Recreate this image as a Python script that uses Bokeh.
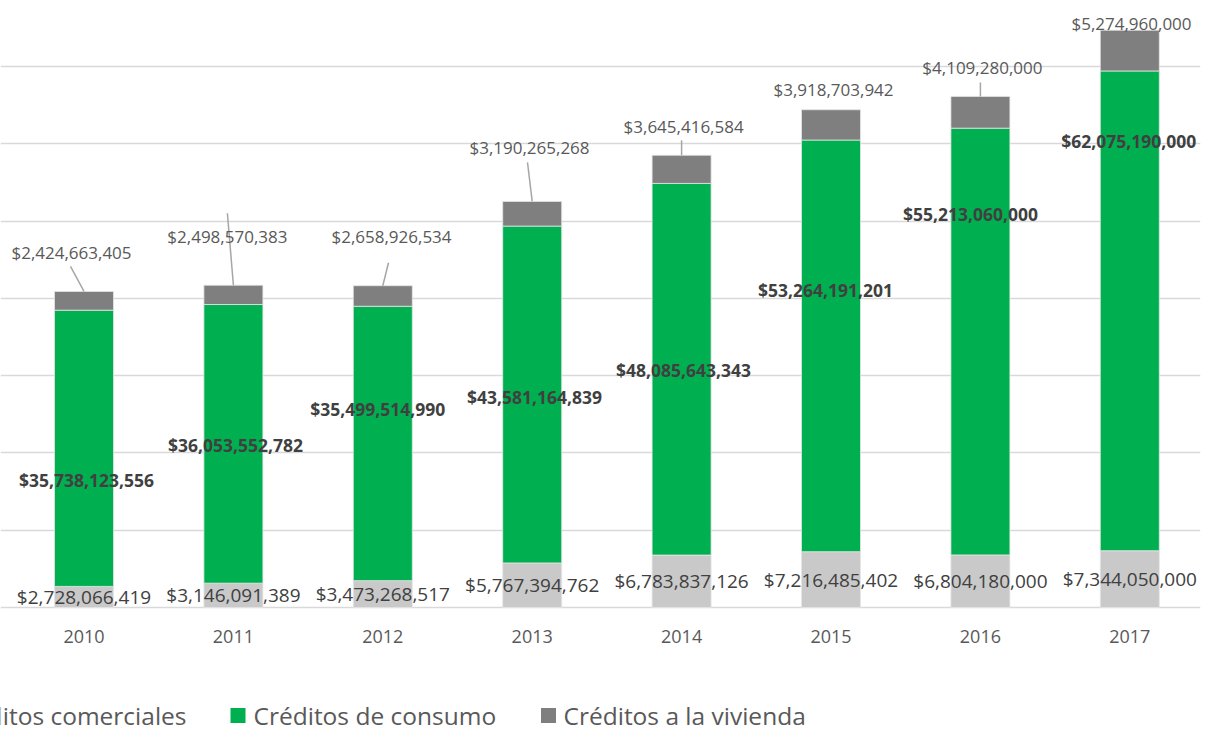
from bokeh.plotting import figure
from bokeh.models import Range1d, FixedTicker
from bokeh.embed import file_html
from bokeh.resources import INLINE
from bokeh.core.properties import value

# ---------------- data ----------------
years = ["2010", "2011", "2012", "2013", "2014", "2015", "2016", "2017"]
comerciales = [2728066419, 3146091389, 3473268517, 5767394762, 6783837126, 7216485402, 6804180000, 7344050000]
consumo = [35738123556, 36053552782, 35499514990, 43581164839, 48085643343, 53264191201, 55213060000, 62075190000]
vivienda = [2424663405, 2498570383, 2658926534, 3190265268, 3645416584, 3918703942, 4109280000, 5274960000]
series_names = ["Créditos comerciales", "Créditos de consumo", "Créditos a la vivienda"]
grid_ticks = [0, 10e9, 20e9, 30e9, 40e9, 50e9, 60e9, 70e9]

# ---------------- layout (pixels) ----------------
W, H = 1209, 731
FRAME_W = 1200
PX_PER_CAT = 149.4
FIRST_CENTER = 83.5          # px from left edge of figure to first bar centre
BASE_FROM_TOP = 607          # px from top of figure to the zero line
PX_PER_DOLLAR = 7.729e-9
BAR_W = 0.395

# label offsets in pixels (dx right, dy down)
viv_lbl_dx = [-12.5, -6, 8.7, -2.7, 2, 2.5, 2, 1.7]
viv_lbl_dy = [-39, -49, -49, -54, -29, -20, -29, -7]
lead_dx = [-13.5, -6, 5.7, -4.7, 0, 0, 0, 0]
lead_dy = [-25, -72, -23, -39, -15, 0, -14, 0]
con_lbl_dx = [2.5, 2, -5, 2.3, 2, -5.5, -10, -1]
con_lbl_dy = [32, 1.6, -34, 2, 1, -56, -128, -170]

def dx(px):
    return px / PX_PER_CAT

def dy(px):
    return -px / PX_PER_DOLLAR

def page_x(px):
    return (px - FIRST_CENTER) / PX_PER_CAT

def page_y(py):
    return (BASE_FROM_TOP - py) / PX_PER_DOLLAR

xs = list(range(len(years)))
b1 = [0] * len(years)
t1 = [c for c in comerciales]
t2 = [a + b for a, b in zip(t1, consumo)]
t3 = [a + b for a, b in zip(t2, vivienda)]

x_start = -FIRST_CENTER / PX_PER_CAT
y_end = BASE_FROM_TOP / PX_PER_DOLLAR
y_start = y_end - H / PX_PER_DOLLAR

p = figure(width=W, height=H, output_backend="svg", toolbar_location=None,
           x_range=Range1d(x_start, x_start + FRAME_W / PX_PER_CAT),
           y_range=Range1d(y_start, y_end),
           min_border=0, min_border_left=0, min_border_right=W - FRAME_W,
           min_border_top=0, min_border_bottom=0)
p.xaxis.visible = False
p.yaxis.visible = False
p.xgrid.visible = False
p.ygrid.ticker = FixedTicker(ticks=grid_ticks)
p.ygrid.grid_line_color = "#d9d9d9"
p.ygrid.grid_line_width = 1.5
p.outline_line_color = None
p.background_fill_color = "white"
p.border_fill_color = "white"

colors = ["#c9c9c9", "#00b050", "#7f7f7f"]
bottoms = [b1, t1, t2]
tops = [t1, t2, t3]
for bt, tp, col in zip(bottoms, tops, colors):
    p.vbar(x=xs, bottom=bt, top=tp, width=BAR_W, fill_color=col,
           line_color="#e6e6e6", line_width=0.8)

FONT = value("Open Sans")

# year labels
p.text(x=xs, y=[dy(29)] * len(xs), text=years, text_font=FONT,
       text_font_size="18px", text_color="#595959",
       text_align="center", text_baseline="middle")

def money(v):
    return "${:,}".format(v)

# comerciales labels: centred in segment
p.text(x=xs, y=[v / 2 for v in comerciales], text=[money(v) for v in comerciales],
       text_font=FONT, text_font_size="19px", text_color="#404040",
       text_align="center", text_baseline="middle")

# consumo labels (bold, hand placed)
p.text(x=[x + dx(d) for x, d in zip(xs, con_lbl_dx)],
       y=[(a + b) / 2 + dy(d) for a, b, d in zip(t1, t2, con_lbl_dy)],
       text=[money(v) for v in consumo],
       text_font=FONT, text_font_size="17.5px", text_font_style="bold",
       text_color="#404040", text_align="center", text_baseline="middle")

# vivienda leader lines and labels
p.segment(x0=[x + dx(d) for x, d in zip(xs, lead_dx)],
          y0=[t + dy(d) for t, d in zip(t3, lead_dy)],
          x1=xs, y1=t3, line_color="#a6a6a6", line_width=1.5)
p.text(x=[x + dx(d) for x, d in zip(xs, viv_lbl_dx)],
       y=[t + dy(d) for t, d in zip(t3, viv_lbl_dy)],
       text=[money(v) for v in vivienda],
       text_font=FONT, text_font_size="17px", text_color="#595959",
       text_align="center", text_baseline="middle")

# legend (bottom, first entry cut off at left edge as in the original)
leg_sq_px = [-60, 237.5, 548]
leg_txt_px = [186, 253, 563]
leg_align = ["right", "left", "left"]
LEG_Y = 715
p.scatter(x=[page_x(v) for v in leg_sq_px], y=[page_y(LEG_Y)] * 3, marker="square",
          size=15, fill_color=colors, line_color=None)
for i in range(3):
    p.text(x=[page_x(leg_txt_px[i])], y=[page_y(LEG_Y)], text=[series_names[i]],
           text_font=FONT, text_font_size="24.5px", text_color="#595959",
           text_align=leg_align[i], text_baseline="middle")

open("out.html", "w").write(file_html(p, INLINE))
